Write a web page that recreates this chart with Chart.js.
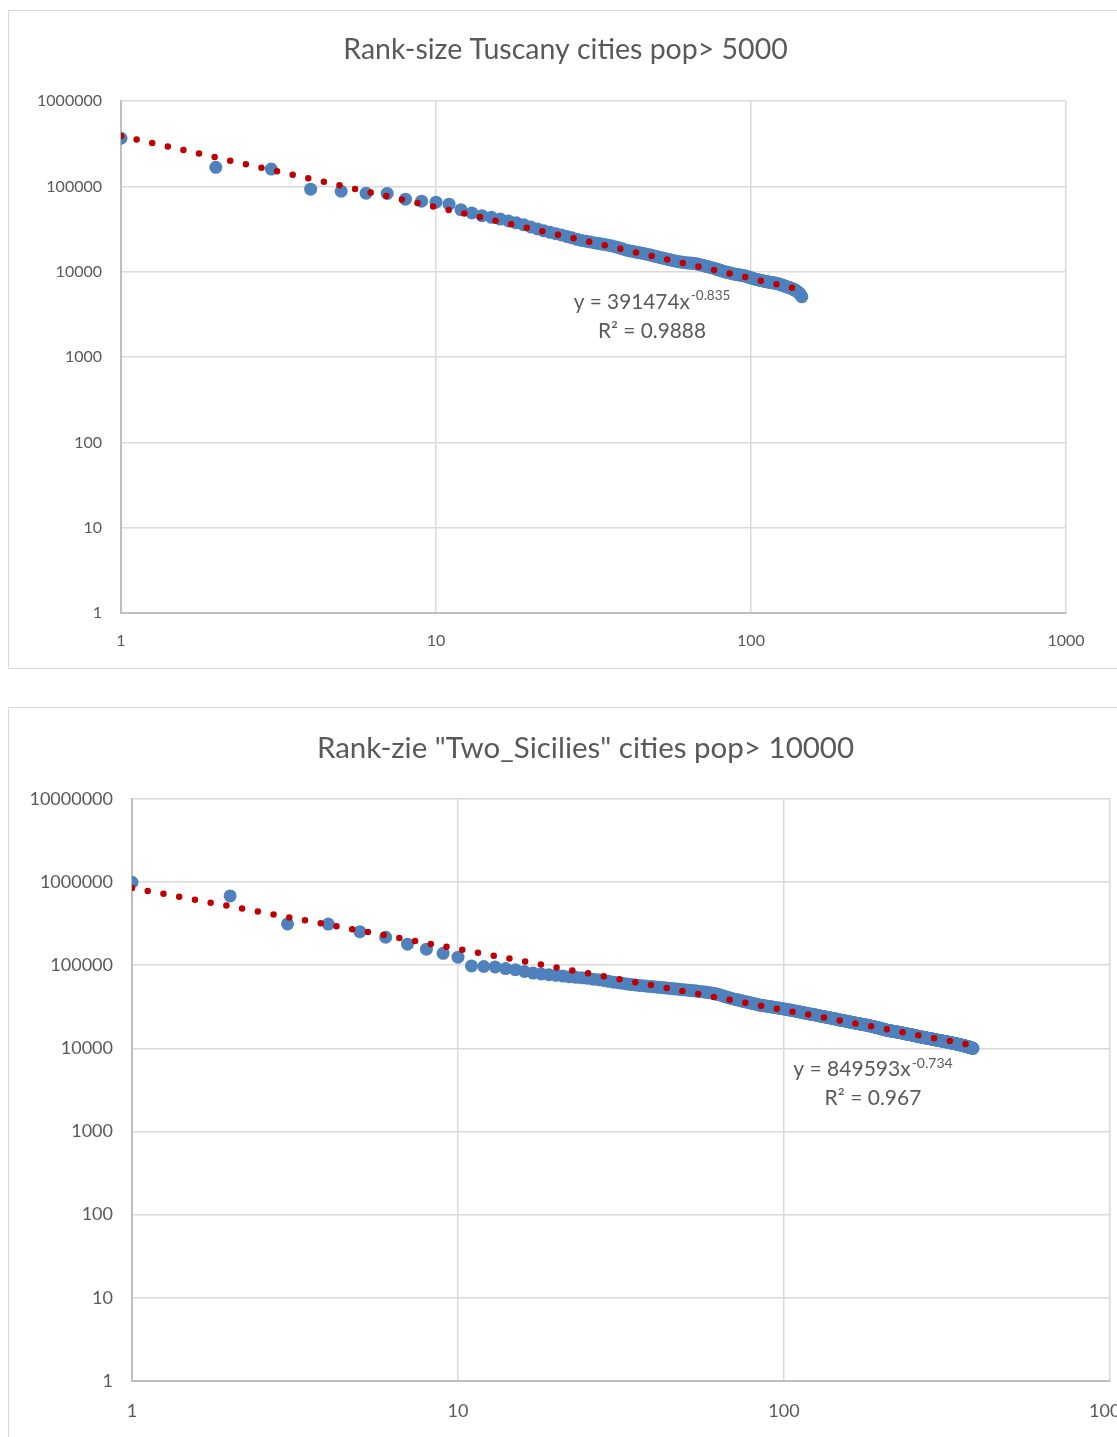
<!DOCTYPE html>
<html><head><meta charset="utf-8">
<script src="https://cdn.jsdelivr.net/npm/chart.js@4/dist/chart.umd.min.js"></script>
<style>
html,body{margin:0;padding:0;background:#fff;overflow:hidden;width:1117px;height:1437px;position:relative;}
.card{position:absolute;border:1px solid #D9D9D9;background:#fff;box-sizing:border-box;overflow:hidden;}
#c1{left:8px;top:10px;width:1115px;height:659px;}
#c2{left:8px;top:707px;width:1155px;height:745px;}
canvas{position:absolute;left:0;top:0;}
</style></head><body>
<div class="card" id="c1"><canvas id="ch1" width="1113" height="657"></canvas></div>
<div class="card" id="c2"><canvas id="ch2" width="1153" height="740"></canvas></div>
<script>
// ---------- data ----------
const tuscanyTitle = 'Rank-size Tuscany cities pop> 5000';
const siciliesTitle = 'Rank-zie "Two_Sicilies" cities pop> 10000';

const tuscanyPop = [
 368000,168000,160000,93000,88000,83500,83000,71000,67300,65500,
 62100,53500,49000,45500,43500,41500,39500,37500,35500,33500,
 31800,30200,29000,28000,27000,26000,25000,24000,23300,22800,
 22300,21800,21400,21000,20600,20200,19700,19200,18600,18000,
 17700,17400,17100,16800,16550,16300,16000,15700,15400,15100,
 14850,14600,14350,14100,13900,13700,13500,13300,13150,13000,
 12900,12800,12700,12650,12600,12500,12400,12250,12100,11950,
 11800,11600,11450,11300,11150,11000,10850,10700,10550,10400,
 10250,10100,9950,9850,9750,9650,9550,9450,9370,9300,
 9240,9180,9130,9080,9000,8900,8800,8700,8600,8500,
 8400,8300,8220,8150,8080,8010,7950,7890,7830,7770,
 7720,7670,7620,7570,7520,7480,7440,7400,7370,7340,
 7300,7230,7160,7090,7020,6950,6880,6810,6740,6670,
 6600,6540,6480,6410,6340,6270,6190,6100,6000,5900,
 5780,5650,5500,5300,5100
];
const tuscanyTrendX = [1, 145];
const tuscanyTrendY = [391474, 6134];
const tuscanyEq = ['y = 391474x', '-0.835', 'R² = 0.9888'];

const siciliesPop = [
 995000,681000,314000,312000,253000,217000,179000,156000,139000,125000,
 98000,96500,95500,91000,88500,84000,80500,78500,77000,75500,
 74000,72500,71500,70500,69500,68000,67000,65500,64000,62500,
 61500,60500,59500,58500,57800,57200,56600,56000,55500,55000,
 54500,54000,53500,53000,52500,52000,51600,51200,50800,50400,
 50000,49600,49200,48800,48400,48000,47600,47200,46800,46300,
 45700,45000,44300,43500,42700,41900,41200,40500,39900,39300,
 38800,38300,37800,37300,36800,36400,36000,35600,35200,34800,
 34400,34000,33600,33200,32900,32700,32500,32300,32100,31900,
 31700,31450,31200,31000,30800,30600,30400,30200,30000,29800,
 29600,29400,29200,29000,28800,28600,28400,28200,28000,27800,
 27600,27400,27200,27000,26800,26600,26400,26250,26100,25950,
 25800,25650,25500,25350,25200,25050,24900,24750,24550,24400,
 24250,24100,23970,23840,23710,23580,23450,23320,23190,23060,
 22930,22800,22670,22540,22410,22280,22150,22000,21900,21800,
 21700,21590,21480,21370,21260,21150,21040,20930,20820,20710,
 20600,20500,20400,20300,20200,20100,20000,19920,19840,19760,
 19680,19600,19520,19440,19360,19280,19200,19120,19040,18960,
 18880,18800,18700,18600,18500,18420,18340,18250,18160,18070,
 17980,17890,17800,17710,17620,17530,17440,17350,17260,17170,
 17080,16990,16900,16810,16720,16640,16560,16480,16400,16350,
 16300,16250,16200,16150,16100,16050,16000,15950,15900,15850,
 15800,15750,15700,15650,15600,15550,15500,15450,15400,15340,
 15280,15220,15160,15100,15040,14980,14940,14900,14850,14800,
 14760,14720,14680,14640,14600,14560,14510,14460,14410,14360,
 14310,14260,14210,14160,14110,14060,14010,13960,13910,13860,
 13820,13780,13740,13700,13660,13630,13600,13560,13520,13480,
 13440,13400,13360,13320,13280,13240,13200,13170,13140,13110,
 13080,13050,13010,12970,12930,12890,12850,12810,12770,12730,
 12700,12670,12640,12610,12580,12550,12520,12490,12460,12430,
 12400,12370,12340,12310,12280,12250,12220,12190,12160,12130,
 12100,12070,12040,12010,11980,11950,11920,11890,11860,11830,
 11800,11770,11740,11710,11680,11650,11620,11590,11560,11530,
 11500,11480,11450,11420,11400,11370,11350,11320,11300,11270,
 11240,11210,11180,11150,11120,11090,11060,11030,11000,10970,
 10940,10910,10880,10850,10820,10790,10760,10730,10700,10670,
 10640,10610,10580,10550,10520,10490,10460,10430,10400,10370,
 10300,10260,10220,10190,10160,10130,10100,10070,10040,10010
];
const siciliesTrendX = [1, 380];
const siciliesTrendY = [849593, 10850];
const siciliesEq = ['y = 849593x', '-0.734', 'R² = 0.967'];

const xTicks = [1, 10, 100, 1000];
const yTicksTop = [1, 10, 100, 1000, 10000, 100000, 1000000];
const yTicksBottom = [1, 10, 100, 1000, 10000, 100000, 1000000, 10000000];

// ---------- styling ----------
const FONT = 'Lato, "Open Sans", "DejaVu Sans", sans-serif';
const TXT = '#595959';
const GRID = '#D9D9D9';
const AXIS = '#BFBFBF';
const BLUE = '#4F81BD';
const RED = '#C00000';

const eqPlugin = {
  id: 'eqLabel',
  afterDatasetsDraw(chart, args, o) {
    const ctx = chart.ctx;
    ctx.save();
    ctx.fillStyle = TXT;
    ctx.textBaseline = 'middle';
    const main = o.size + 'px ' + FONT, sup = o.supSize + 'px ' + FONT;
    ctx.font = main; const w1 = ctx.measureText(o.lines[0]).width;
    ctx.font = sup; const w2 = ctx.measureText(o.lines[1]).width;
    const x0 = o.cx - (w1 + w2 + 1) / 2;
    ctx.textAlign = 'left';
    ctx.font = main; ctx.fillText(o.lines[0], x0, o.cy1);
    ctx.font = sup; ctx.fillText(o.lines[1], x0 + w1 + 1, o.cy1 - 6);
    ctx.font = main; ctx.textAlign = 'center'; ctx.fillText(o.lines[2], o.cx, o.cy2);
    ctx.restore();
  }
};

function makeChart(id, cfg) {
  const pts = cfg.pop.map((v, i) => ({ x: i + 1, y: v }));
  const trend = cfg.trendX.map((x, i) => ({ x: x, y: cfg.trendY[i] }));
  return new Chart(document.getElementById(id), {
    type: 'scatter',
    data: {
      datasets: [
        { type: 'line', data: trend, borderColor: RED, borderWidth: 6.5, borderDash: [0, 16],
          borderCapStyle: 'round', pointRadius: 0, fill: false, showLine: true, order: 0 },
        { data: pts, backgroundColor: BLUE, borderColor: BLUE, borderWidth: 0,
          pointRadius: 6.5, pointHoverRadius: 6.5, showLine: false, order: 1 }
      ]
    },
    options: {
      responsive: false, animation: false,
      layout: { padding: 0 },
      plugins: {
        legend: { display: false }, tooltip: { enabled: false },
        title: { display: true, text: cfg.title, color: TXT,
          font: { family: FONT, size: cfg.titleSize, weight: 'normal', lineHeight: 1.2 },
          padding: { top: cfg.titleTop, bottom: cfg.titleBottom } },
        eqLabel: cfg.eq
      },
      scales: {
        x: {
          type: 'logarithmic', min: 1, max: 1000, position: 'bottom',
          afterBuildTicks: s => { s.ticks = xTicks.map(v => ({ value: v })); },
          afterFit: s => { s.height = cfg.xAxisH; },
          ticks: { color: TXT, font: { family: FONT, size: cfg.tickSize }, padding: cfg.xPad,
            maxRotation: 0, autoSkip: false, callback: v => String(v) },
          grid: { color: GRID, lineWidth: 1.5, drawTicks: false },
          border: { color: AXIS, width: 2 }
        },
        y: {
          type: 'logarithmic', min: 1, max: cfg.yMax, position: 'left',
          afterBuildTicks: s => { s.ticks = cfg.yTicks.map(v => ({ value: v })); },
          afterFit: s => { s.width = cfg.yAxisW; },
          ticks: { color: TXT, font: { family: FONT, size: cfg.tickSize }, padding: 19,
            autoSkip: false, callback: v => String(v) },
          grid: { color: GRID, lineWidth: 1.5, drawTicks: false },
          border: { color: AXIS, width: 2 }
        },
        // empty spacer on the right so the title centres on the whole card
        spacer: {
          type: 'linear', position: 'right', display: true,
          afterFit: s => { s.width = cfg.rightW; },
          ticks: { display: false }, grid: { display: false, drawTicks: false },
          border: { display: false }
        }
      }
    },
    plugins: [eqPlugin]
  });
}

// top chart: canvas origin at page (9,11)
makeChart('ch1', {
  pop: tuscanyPop, trendX: tuscanyTrendX, trendY: tuscanyTrendY, title: tuscanyTitle,
  yTicks: yTicksTop, yMax: 1000000, tickSize: 16,
  rightW: 56, yAxisW: 112, xAxisH: 55, xPad: 18,
  titleSize: 28.5, titleTop: 22, titleBottom: 34,
  eq: { lines: tuscanyEq, cx: 643, cy1: 291, cy2: 320, size: 20.8, supSize: 13.5 }
});
// bottom chart: canvas origin at page (9,708)
makeChart('ch2', {
  pop: siciliesPop, trendX: siciliesTrendX, trendY: siciliesTrendY, title: siciliesTitle,
  yTicks: yTicksBottom, yMax: 10000000, tickSize: 18,
  rightW: 52, yAxisW: 123, xAxisH: 67, xPad: 19,
  titleSize: 29.5, titleTop: 23, titleBottom: 32.5,
  eq: { lines: siciliesEq, cx: 864, cy1: 361, cy2: 390, size: 21, supSize: 14 }
});
</script>
</body></html>
